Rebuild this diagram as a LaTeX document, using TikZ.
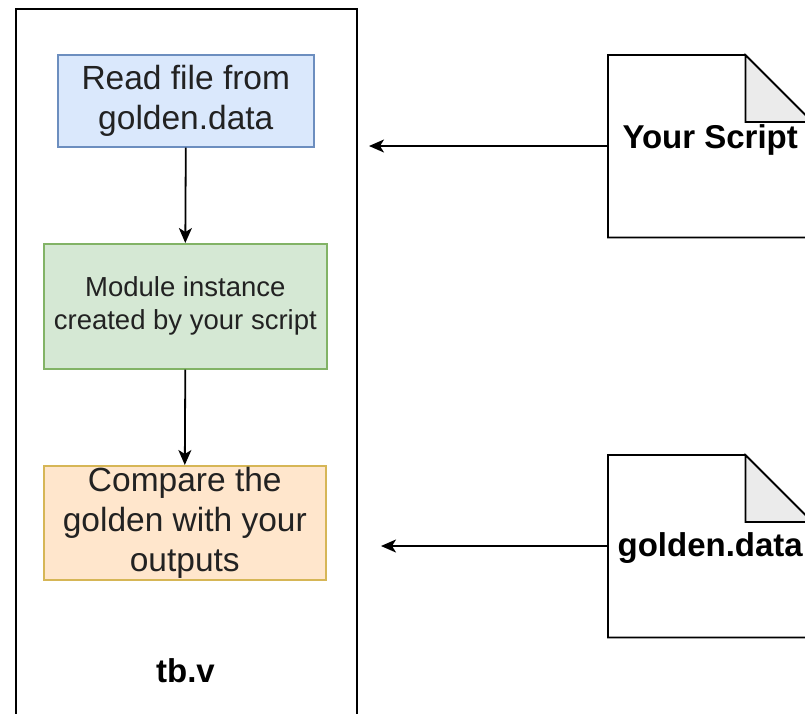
\documentclass[tikz,border=0pt]{standalone}
\usepackage{fontspec}
\setmainfont{Liberation Sans}
\usetikzlibrary{arrows.meta,calc}

\definecolor{blueFill}{HTML}{DAE8FC}
\definecolor{blueLine}{HTML}{6C8EBF}
\definecolor{greenFill}{HTML}{D5E8D4}
\definecolor{greenLine}{HTML}{82B366}
\definecolor{orangeFill}{HTML}{FFE6CC}
\definecolor{orangeLine}{HTML}{D6B656}
\definecolor{foldFill}{HTML}{EBEBEB}
\definecolor{textDark}{HTML}{222222}

\begin{document}
\begin{tikzpicture}[x=1pt,y=-1pt,
  container/.style={draw=black, line width=2pt, fill=white, inner sep=0pt, anchor=north west},
  stepbox/.style={line width=1.6pt, inner sep=0pt, align=center, text=textDark, anchor=north west},
  bigtext/.style={font=\fontsize{33.5}{40}\selectfont},
  smalltext/.style={font=\fontsize{27.5}{33}\selectfont},
  boldtext/.style={font=\fontsize{33}{40}\selectfont\bfseries, text=black},
  docbox/.style={inner sep=0pt, anchor=north west},
  docline/.style={draw=black, line width=1.8pt, line join=miter},
  flow/.style={draw=black, line width=1.8pt, -{Stealth[length=15pt,width=13pt,inset=4pt]}}
]
\useasboundingbox (0,0) rectangle (805,713);

% testbench container (runs past the lower edge)
\node[container, minimum width=341pt, minimum height=740pt] (tb) at (15,8) {};
\node[boldtext, anchor=base] (tblabel) at (185.5,682) {tb.v};

% flow steps inside the testbench
\node[stepbox, bigtext, draw=blueLine, fill=blueFill,
      minimum width=256pt, minimum height=92pt] (read) at (57,54)
      {Read file from\\golden.data};
\node[stepbox, smalltext, draw=greenLine, fill=greenFill,
      minimum width=283pt, minimum height=125pt] (dut) at (43,243)
      {Module instance\\created by your script};
\node[stepbox, bigtext, draw=orangeLine, fill=orangeFill,
      minimum width=282pt, minimum height=114pt] (cmp) at (43,465)
      {Compare the\\golden with your\\outputs};

\draw[flow] (read.south) -- (dut.north);
\draw[flow] (dut.south) -- (cmp.north);

% input files (folded-corner documents)
\def\fold{67pt}
\node[docbox, minimum width=204pt, minimum height=182pt] (script) at (608,55) {};
\node[docbox, minimum width=204pt, minimum height=182pt] (golden) at (608,455) {};

\foreach \d in {script,golden}{
  \path[docline, fill=white]
    (\d.north west) -- ([xshift=-\fold]\d.north east)
    -- ([yshift=-\fold]\d.north east) -- (\d.south east)
    -- (\d.south west) -- cycle;
  \path[docline, fill=foldFill]
    ([xshift=-\fold]\d.north east) -- ([yshift=-\fold]\d.north east)
    -- ([xshift=-\fold,yshift=-\fold]\d.north east) -- cycle;
}
\node[boldtext] (scriptlabel) at ([yshift=6pt]script.center) {Your Script};
\node[boldtext] (goldenlabel) at ([yshift=-2pt]golden.center) {golden.data};

% feeds into the testbench
\coordinate (scriptin) at (369,146);
\coordinate (goldenin) at (381,546);
\draw[flow] (script.west |- scriptin) -- (scriptin);
\draw[flow] (golden.west |- goldenin) -- (goldenin);
\end{tikzpicture}
\end{document}
